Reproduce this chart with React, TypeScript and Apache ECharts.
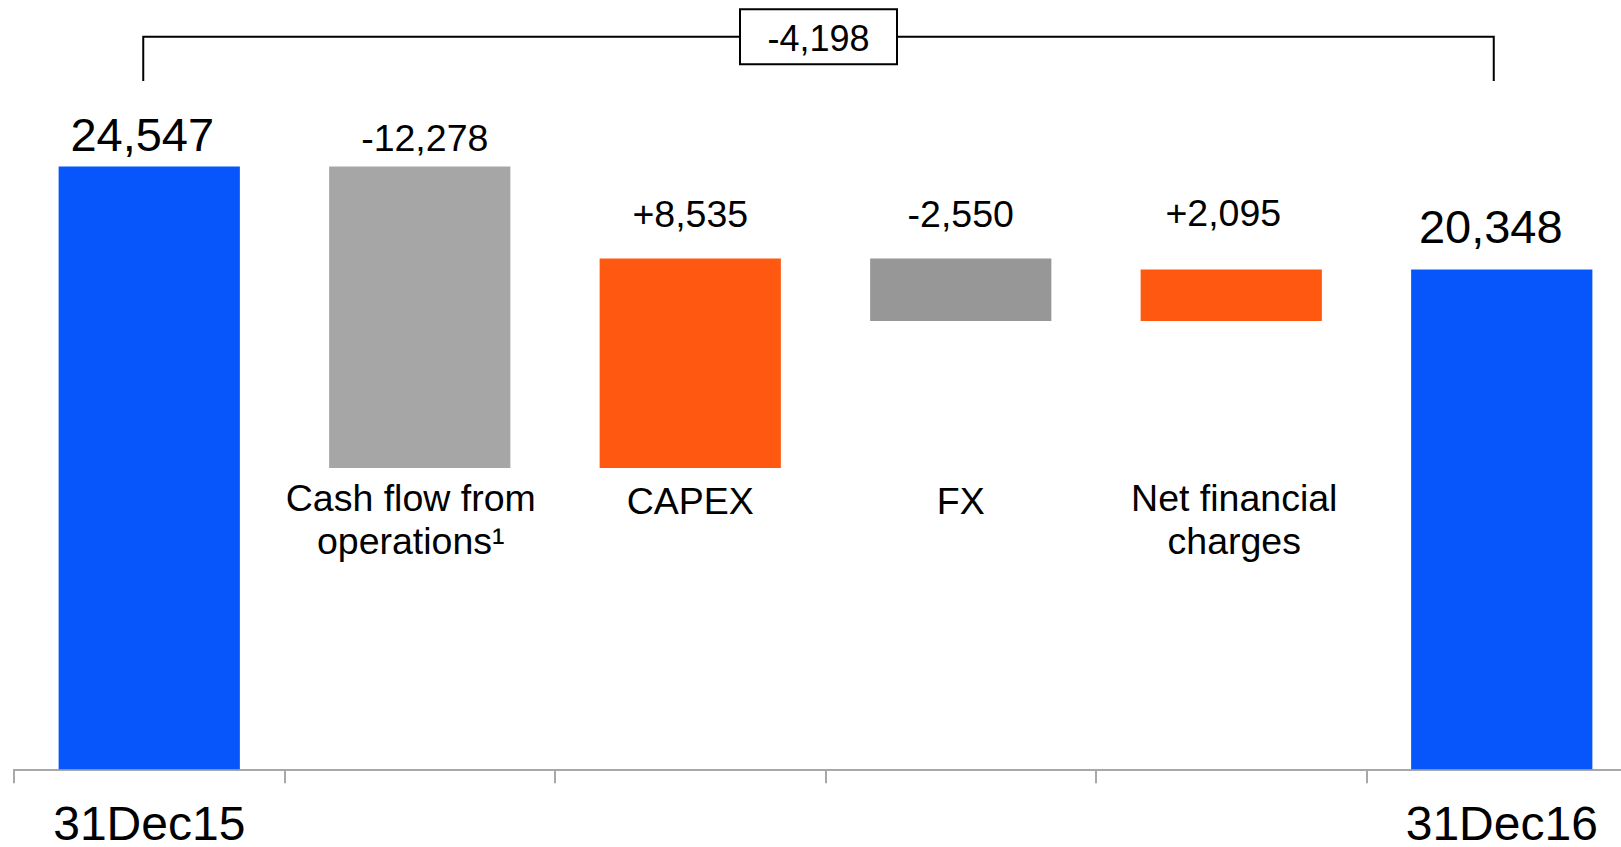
import React, { useEffect, useRef } from "react";
import * as echarts from "echarts";

// Net debt bridge, 31Dec15 -> 31Dec16
const categories = [
  "31Dec15",
  "Cash flow from\noperations¹",
  "CAPEX",
  "FX",
  "Net financial\ncharges",
  "31Dec16",
];
const openingBalance = 24547;
const movements = [-12278, 8535, -2550, 2095];
const closingBalance = 20348;
const totalChange = -4198;

// Styling
const FONT = "'Liberation Sans', Arial, Helvetica, sans-serif";
const BLUE = "#0656FB";
const ORANGE = "#FF5811";
const GREY_LIGHT = "#A6A6A6";
const GREY_DARK = "#979797";
const movementColors = [GREY_LIGHT, ORANGE, GREY_DARK, ORANGE];
const labelGap = [8.5, 10, 25.5, 26, 37.5, 20];
const labelShift = [-7, 5, 0, 0, -8, -11];

const fmt = (v: number) => Math.abs(v).toLocaleString("en-US");
const signed = (v: number) => (v < 0 ? "-" : "+") + fmt(v);

export default function App() {
  const ref = useRef<HTMLDivElement>(null);

  useEffect(() => {
    if (!ref.current) return;
    const chart = echarts.init(ref.current, undefined, { renderer: "svg" });

    // Build the waterfall as an invisible base + visible segment stack
    const base: number[] = [0];
    const seg: any[] = [];
    const last = categories.length - 1;
    const mkLabel = (i: number, text: string, size: number) => ({
      show: true,
      position: "top",
      distance: labelGap[i],
      offset: [labelShift[i], 0],
      formatter: text,
      fontSize: size,
      lineHeight: size,
      fontFamily: FONT,
      color: "#000",
    });
    seg.push({
      value: openingBalance,
      itemStyle: { color: BLUE },
      label: mkLabel(0, fmt(openingBalance), 47),
    });
    let level = openingBalance;
    movements.forEach((m, k) => {
      const after = level + m;
      base.push(Math.min(level, after));
      seg.push({
        value: Math.abs(m),
        itemStyle: { color: movementColors[k] },
        label: mkLabel(k + 1, signed(m), 37.5),
      });
      level = after;
    });
    base.push(0);
    seg.push({
      value: closingBalance,
      itemStyle: { color: BLUE },
      label: mkLabel(last, fmt(closingBalance), 47),
    });

    chart.setOption({
      animation: false,
      backgroundColor: "#fff",
      // the last category runs past the right edge of the canvas
      grid: { left: 14, width: 1623, top: 32.6, bottom: 77.7, outerBoundsMode: "none" },
      xAxis: {
        type: "category",
        data: categories,
        axisLine: { lineStyle: { color: "#A8A8A8", width: 2 } },
        axisTick: { show: true, length: 14, lineStyle: { color: "#A8A8A8", width: 2 } },
        axisLabel: {
          interval: 0,
          margin: 39,
          fontSize: 48,
          lineHeight: 30,
          fontFamily: FONT,
          color: "#000",
          formatter: (v: string, i: number) => (i === 0 || i === last ? v : ""),
        },
      },
      yAxis: { type: "value", min: 0, max: 30000, show: false },
      series: [
        {
          type: "bar",
          stack: "w",
          data: base,
          barWidth: "67%",
          itemStyle: { color: "transparent" },
          silent: true,
        },
        {
          type: "bar",
          stack: "w",
          data: seg,
          barWidth: "67%",
        },
      ],
    });

    // Overlay: category captions and the total-change bracket
    const cx = (i: number) => chart.convertToPixel({ xAxisIndex: 0 }, categories[i]) as number;
    const graphics: any[] = [];
    for (let i = 1; i < last; i++) {
      const twoLine = categories[i].includes("\n");
      graphics.push({
        type: "text",
        x: cx(i) + (i === 1 ? -9 : i === 4 ? 3 : 0),
        y: twoLine ? 477 : 480,
        style: {
          text: categories[i],
          fontSize: 37.5,
          lineHeight: 42.5,
          fontFamily: FONT,
          fill: "#000",
          align: "center",
          verticalAlign: "top",
        },
      });
    }
    const xl = cx(0) - 6;
    const xr = cx(last) - 8;
    const yLine = 36.7;
    const yEnd = 81;
    const mid = (xl + xr) / 2;
    graphics.push(
      {
        type: "polyline",
        shape: { points: [[xl, yEnd], [xl, yLine], [xr, yLine], [xr, yEnd]] },
        style: { stroke: "#000", lineWidth: 2, fill: null },
      },
      {
        type: "rect",
        shape: { x: mid - 78.5, y: 9.3, width: 157, height: 55 },
        style: { fill: "#fff", stroke: "#000", lineWidth: 2 },
      },
      {
        type: "text",
        x: mid,
        y: 38,
        style: {
          text: signed(totalChange),
          fontSize: 36,
          fontFamily: FONT,
          fill: "#000",
          align: "center",
          verticalAlign: "middle",
        },
      }
    );
    chart.setOption({ graphic: graphics });

    return () => chart.dispose();
  }, []);

  return (
    <div
      ref={ref}
      style={{ position: "fixed", left: 0, top: 0, width: "1621px", height: "847px", background: "#fff" }}
    />
  );
}
